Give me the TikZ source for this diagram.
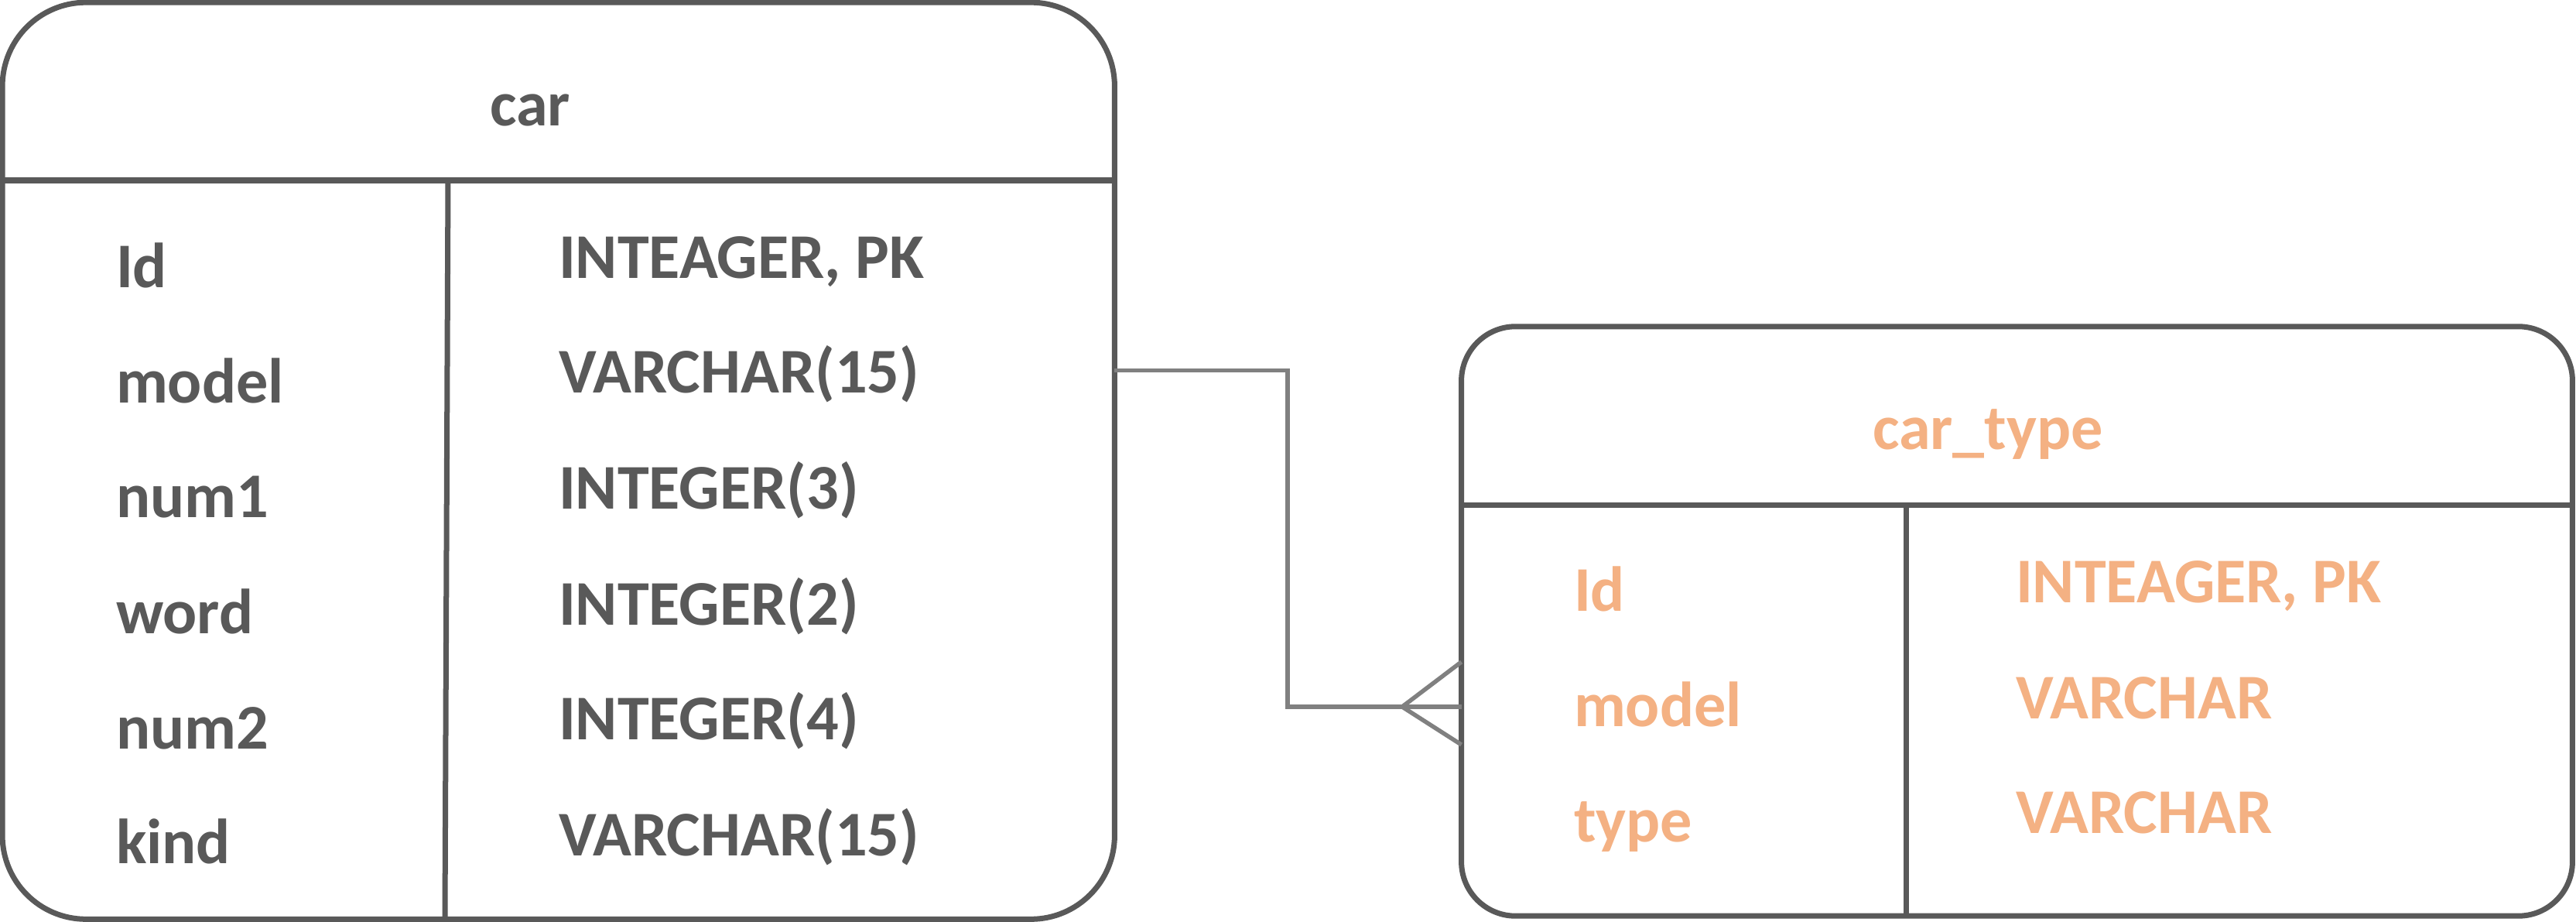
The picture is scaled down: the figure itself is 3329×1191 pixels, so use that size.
\documentclass[tikz,border=0pt]{standalone}
\usepackage{fontspec}
\setmainfont{Carlito}
\usetikzlibrary{calc}
\definecolor{tblgray}{HTML}{595959}
\definecolor{conngray}{HTML}{808080}
\definecolor{pkorange}{HTML}{F4B183}
\begin{document}
\begin{tikzpicture}[x=0.01cm,y=-0.01cm,
  tbl/.style={draw=tblgray, line width=0.07cm, outer sep=0pt, inner sep=0pt, fill=white},
  sep/.style={draw=tblgray, line width=0.07cm},
  conn/.style={draw=conngray, line width=0.055cm},
  txt/.style={font=\fontsize{23.4pt}{28pt}\selectfont\bfseries, inner sep=0pt, outer sep=0pt},
  gtxt/.style={txt, text=tblgray},
  otxt/.style={txt, text=pkorange}]
\useasboundingbox (0,0) rectangle (3329,1191);
% tables
\node[tbl, minimum width=14.365cm, minimum height=11.835cm, rounded corners=1.08cm] (car) at (721.75,595.25) {};
\node[tbl, minimum width=14.35cm, minimum height=7.61cm, rounded corners=0.7cm] (cartype) at (2606.5,802.5) {};
% separators car
\draw[sep] (car.west |- 0,233) -- (car.east |- 0,233);
\draw[sep] (579,233) -- (575,1187);
% separators car_type
\draw[sep] (cartype.west |- 0,652) -- (cartype.east |- 0,652);
\draw[sep] (2463,652) -- (2463,1183);
% titles
\node[gtxt, anchor=base] (cartitle) at (685,163) {car};
\node[otxt, anchor=base] (cttitle) at (2569,580) {car\_type};
% car fields
\node[gtxt, anchor=base west] (f1) at (150,372) {Id};
\node[gtxt, anchor=base west] (f2) at (150,520) {model};
\node[gtxt, anchor=base west] (f3) at (150,668) {num1};
\node[gtxt, anchor=base west] (f4) at (150,818) {word};
\node[gtxt, anchor=base west] (f5) at (150,967) {num2};
\node[gtxt, anchor=base west] (f6) at (150,1115) {kind};
\node[gtxt, anchor=base west] (t1) at (722,360) {INTEAGER, PK};
\node[gtxt, anchor=base west] (t2) at (722,508) {VARCHAR(15)};
\node[gtxt, anchor=base west] (t3) at (722,657) {INTEGER(3)};
\node[gtxt, anchor=base west] (t4) at (722,807) {INTEGER(2)};
\node[gtxt, anchor=base west] (t5) at (722,955) {INTEGER(4)};
\node[gtxt, anchor=base west] (t6) at (722,1105) {VARCHAR(15)};
% car_type fields
\node[otxt, anchor=base west] (g1) at (2034,789) {Id};
\node[otxt, anchor=base west] (g2) at (2034,938) {model};
\node[otxt, anchor=base west] (g3) at (2034,1087) {type};
\node[otxt, anchor=base west] (u1) at (2605,778) {INTEAGER, PK};
\node[otxt, anchor=base west] (u2) at (2605,928) {VARCHAR};
\node[otxt, anchor=base west] (u3) at (2605,1076) {VARCHAR};
% connector
\coordinate (bend) at (1664,913);
\coordinate (apex) at (1812,913);
\draw[conn] (car.east |- 0,478.5) -| (bend) -- (cartype.west |- bend);
\draw[conn] (cartype.west |- 0,855) -- (apex) -- (cartype.west |- 0,962);
\end{tikzpicture}
\end{document}
